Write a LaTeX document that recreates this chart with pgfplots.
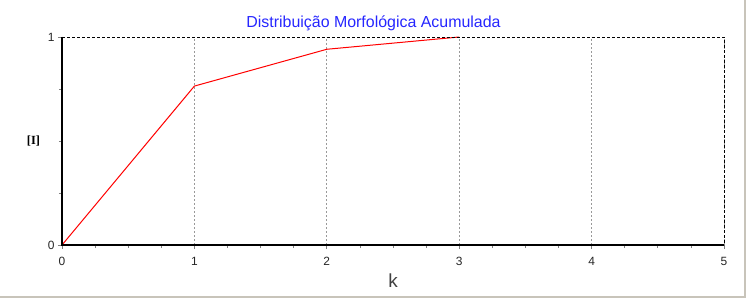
\documentclass[border=0pt]{standalone}
\usepackage{pgfplots}
\pgfplotsset{compat=1.18}
\usepackage{fontspec}
\setmainfont{Liberation Sans}
\newfontfamily\seriffont{Liberation Serif}
\definecolor{framegray}{RGB}{200,196,186}
\begin{document}
\begin{tikzpicture}
\begin{axis}[name=ax, scale only axis, width=662bp, height=208bp,
  xmin=0, xmax=5, ymin=0, ymax=1,
  xtick={0,1,2,3,4,5}, ytick={0,1},
  minor x tick num=3, minor y tick num=3,
  tick pos=left,
  tick align=outside,
  major tick length=4bp, minor tick length=3bp,
  tick style={gray, line width=0.8bp},
  axis line style={draw=none},
  xmajorgrids,
  major x grid style={gray!80, dash pattern=on 2bp off 2bp, line width=0.8bp},
  tick label style={font=\fontsize{12}{14}\selectfont, text=black!85},
  xticklabel style={yshift=-4.5bp},
  /pgf/number format/assume math mode=true,
  clip=false,
]
\addplot[red, line width=1bp] coordinates {(0,0) (1,0.764) (2,0.941) (3,1)};
\draw[black, dash pattern=on 3bp off 2bp, line width=0.9bp] (rel axis cs:0,1) -- (rel axis cs:1,1) -- (rel axis cs:1,0);
\draw[black, line width=1.6bp] (rel axis cs:0,1) -- (rel axis cs:0,0) -- (rel axis cs:1,0);
\end{axis}
\node[anchor=base, text=blue!85, font=\fontsize{16}{19}\selectfont] at ([xshift=311.5bp,yshift=217bp]ax.south west) {Distribuição Morfológica Acumulada};
\node[anchor=base, text=black!75, font=\fontsize{19}{23}\selectfont] at ([yshift=-42bp]ax.south) {k};
\node[anchor=center, font=\seriffont\bfseries\fontsize{12.5}{14}\selectfont] at ([xshift=-28.5bp]ax.west) {[I]};
\draw[framegray, line width=2bp] ([xshift=683bp,yshift=245bp]ax.south west) -- ([xshift=683bp,yshift=-52bp]ax.south west) -- ([xshift=-62bp,yshift=-52bp]ax.south west);
\pgfresetboundingbox
\path ([xshift=-62bp,yshift=-54bp]ax.south west) rectangle ([xshift=685bp,yshift=245bp]ax.south west);
\end{tikzpicture}
\end{document}
